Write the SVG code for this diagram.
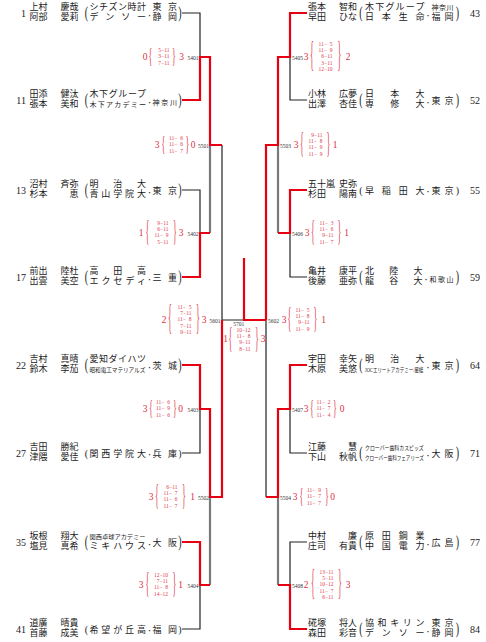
<svg xmlns="http://www.w3.org/2000/svg" width="486" height="642" viewBox="0 0 486 642">
<style>
.n{font-family:"Liberation Serif","Noto Sans CJK JP",serif;font-size:9px;fill:#1a1a1a}
.e{text-anchor:end}
.c{text-anchor:middle}
.d{font-family:"Liberation Serif","Noto Sans CJK JP",serif;font-size:5px;font-weight:700;fill:#1a1a1a;text-anchor:middle}
.s7{font-size:7px}
.s6{font-size:6.2px}
.sd{font-family:"Liberation Serif",serif;font-size:10px;fill:#1a1a1a}
.pr{font-family:"Liberation Serif",serif;font-size:10px;fill:#1a1a1a;text-anchor:middle}
.sc{font-family:"Liberation Serif",serif;font-size:5.5px;fill:#e2394c;text-anchor:middle}
.bg{font-family:"Liberation Serif",serif;font-size:9.5px;fill:#e0303f;text-anchor:middle}
.br{font-family:"Liberation Serif",serif;font-size:8px;fill:#e2394c;text-anchor:middle}
.mn{font-family:"Liberation Serif",serif;font-size:5.5px;fill:#333}
.k{fill:none;stroke:#222;stroke-width:1.2}
.g{fill:none;stroke:#7a7a7a;stroke-width:2.2}
.r{fill:none;stroke:#e60012;stroke-width:2.2}
</style>
<rect width="486" height="642" fill="#fff"/>
<g id="connectors">
<path class="k" d="M182 13H200V57M182 190H200V233M200 409V453H182M200 585V629H182M222 145V320H244M307 100H290V57M307 277H290V233M290 409V453H307M307 542H290V585M266 320V497"/>
<path class="g" d="M210 145V233M210 497V585M278 145V233M278 497V585"/>
<path class="r" d="M182 100H200V57H210V145H222M182 277H200V233H210M182 365H200V409H210V497H222V320M182 542H200V585H210M244 258V320H266M307 13H290V57H278V145H266V320M307 190H290V233H278M307 365H290V409H278V497H266M307 629H290V585H278"/>
</g>
<g id="p01" transform="translate(0,13)">
<text class="sd e" x="26" y="3.5">1</text>
<text class="n" x="29.5" y="-3.1">上村</text><text class="n e" x="78.5" y="-3.1">慶哉</text>
<text class="n" x="29.5" y="7">阿部</text><text class="n e" x="78.5" y="7">愛莉</text>
<text class="pr" transform="translate(86.5,1) scale(1,1.7)" y="2.6">(</text>
<text class="n" x="89.5" y="-3.1" textLength="56.5">シチズン時計</text>
<text class="n" x="89.5" y="7" textLength="56.5">デンソー</text>
<text class="d" x="149.5" y="4">・</text>
<text class="n" x="152.5" y="-3.1" textLength="24.5">東京</text>
<text class="n" x="152.5" y="7" textLength="24.5">静岡</text>
<text class="pr" transform="translate(180,1) scale(1,1.7)" y="2.6">)</text>
</g>
<g id="p11" transform="translate(0,100)">
<text class="sd e" x="26" y="3.5">11</text>
<text class="n" x="29.5" y="-3.1">田添</text><text class="n e" x="78.5" y="-3.1">健汰</text>
<text class="n" x="29.5" y="7">張本</text><text class="n e" x="78.5" y="7">美和</text>
<text class="pr" transform="translate(86.5,1) scale(1,1.7)" y="2.6">(</text>
<text class="n" x="89.5" y="-3.1" textLength="56.5">木下グループ</text>
<text class="n s7" x="89.5" y="6.5" textLength="56.5">木下アカデミー</text>
<text class="d" x="149.5" y="4">・</text>
<text class="n s7" x="152.5" y="4.5" textLength="24.5">神奈川</text>
<text class="pr" transform="translate(180,1) scale(1,1.7)" y="2.6">)</text>
</g>
<g id="p13" transform="translate(0,190)">
<text class="sd e" x="26" y="3.5">13</text>
<text class="n" x="29.5" y="-3.1">沼村</text><text class="n e" x="78.5" y="-3.1">斉弥</text>
<text class="n" x="29.5" y="7">杉本</text><text class="n e" x="78.5" y="7">恵</text>
<text class="pr" transform="translate(86.5,1) scale(1,1.7)" y="2.6">(</text>
<text class="n" x="89.5" y="-3.1" textLength="56.5">明治大</text>
<text class="n" x="89.5" y="7" textLength="56.5">青山学院大</text>
<text class="d" x="149.5" y="4">・</text>
<text class="n" x="152.5" y="4" textLength="24.5">東京</text>
<text class="pr" transform="translate(180,1) scale(1,1.7)" y="2.6">)</text>
</g>
<g id="p17" transform="translate(0,277)">
<text class="sd e" x="26" y="3.5">17</text>
<text class="n" x="29.5" y="-3.1">前出</text><text class="n e" x="78.5" y="-3.1">陸杜</text>
<text class="n" x="29.5" y="7">出雲</text><text class="n e" x="78.5" y="7">美空</text>
<text class="pr" transform="translate(86.5,1) scale(1,1.7)" y="2.6">(</text>
<text class="n" x="89.5" y="-3.1" textLength="56.5">高田高</text>
<text class="n" x="89.5" y="7" textLength="56.5">エクセディ</text>
<text class="d" x="149.5" y="4">・</text>
<text class="n" x="152.5" y="4" textLength="24.5">三重</text>
<text class="pr" transform="translate(180,1) scale(1,1.7)" y="2.6">)</text>
</g>
<g id="p22" transform="translate(0,365)">
<text class="sd e" x="26" y="3.5">22</text>
<text class="n" x="29.5" y="-3.1">吉村</text><text class="n e" x="78.5" y="-3.1">真晴</text>
<text class="n" x="29.5" y="7">鈴木</text><text class="n e" x="78.5" y="7">李茄</text>
<text class="pr" transform="translate(86.5,1) scale(1,1.7)" y="2.6">(</text>
<text class="n" x="89.5" y="-3.1" textLength="56.5">愛知ダイハツ</text>
<text class="n s6" transform="translate(89.5,6.5) scale(0.9,1)" textLength="62" lengthAdjust="spacingAndGlyphs">昭和電工マテリアルズ</text>
<text class="d" x="149.5" y="4">・</text>
<text class="n" x="152.5" y="4" textLength="24.5">茨城</text>
<text class="pr" transform="translate(180,1) scale(1,1.7)" y="2.6">)</text>
</g>
<g id="p27" transform="translate(0,453)">
<text class="sd e" x="26" y="3.5">27</text>
<text class="n" x="29.5" y="-3.1">吉田</text><text class="n e" x="78.5" y="-3.1">勝紀</text>
<text class="n" x="29.5" y="7">津隈</text><text class="n e" x="78.5" y="7">愛佳</text>
<text class="pr" x="86.5" y="4">(</text>
<text class="n" x="89.5" y="4" textLength="56.5">関西学院大</text>
<text class="d" x="149.5" y="3">・</text>
<text class="n" x="152.5" y="4" textLength="24.5">兵庫</text>
<text class="pr" x="180" y="4">)</text>
</g>
<g id="p35" transform="translate(0,542)">
<text class="sd e" x="26" y="3.5">35</text>
<text class="n" x="29.5" y="-3.1">坂根</text><text class="n e" x="78.5" y="-3.1">翔大</text>
<text class="n" x="29.5" y="7">塩見</text><text class="n e" x="78.5" y="7">真希</text>
<text class="pr" transform="translate(86.5,1) scale(1,1.7)" y="2.6">(</text>
<text class="n s6" x="89.5" y="-3.3" textLength="56">関西卓球アカデミー</text>
<text class="n" x="89.5" y="7" textLength="56.5">ミキハウス</text>
<text class="d" x="149.5" y="4">・</text>
<text class="n" x="152.5" y="4" textLength="24.5">大阪</text>
<text class="pr" transform="translate(180,1) scale(1,1.7)" y="2.6">)</text>
</g>
<g id="p41" transform="translate(0,629)">
<text class="sd e" x="26" y="3.5">41</text>
<text class="n" x="29.5" y="-3.1">道廣</text><text class="n e" x="78.5" y="-3.1">晴貴</text>
<text class="n" x="29.5" y="7">首藤</text><text class="n e" x="78.5" y="7">成美</text>
<text class="pr" x="86.5" y="4">(</text>
<text class="n" x="89.5" y="4" textLength="56.5">希望が丘高</text>
<text class="d" x="149.5" y="3">・</text>
<text class="n" x="152.5" y="4" textLength="24.5">福岡</text>
<text class="pr" x="180" y="4">)</text>
</g>
<g id="p43" transform="translate(0,13)">
<text class="n" x="308" y="-3.1">張本</text><text class="n e" x="357" y="-3.1">智和</text>
<text class="n" x="308" y="7">早田</text><text class="n e" x="357" y="7">ひな</text>
<text class="pr" transform="translate(361,1) scale(1,1.7)" y="2.6">(</text>
<text class="n" x="365" y="-3.1" textLength="59.5">木下グループ</text>
<text class="n" x="365" y="7" textLength="59.5">日本生命</text>
<text class="d" x="428" y="4">・</text>
<text class="n s7" x="431.5" y="-3.5" textLength="22">神奈川</text>
<text class="n" x="431.5" y="7" textLength="22">福岡</text>
<text class="pr" transform="translate(457.5,1) scale(1,1.7)" y="2.6">)</text>
<text class="sd" x="470" y="3.5">43</text>
</g>
<g id="p52" transform="translate(0,100)">
<text class="n" x="308" y="-3.1">小林</text><text class="n e" x="357" y="-3.1">広夢</text>
<text class="n" x="308" y="7">出澤</text><text class="n e" x="357" y="7">杏佳</text>
<text class="pr" transform="translate(361,1) scale(1,1.7)" y="2.6">(</text>
<text class="n" x="365" y="-3.1" textLength="59.5">日本大</text>
<text class="n" x="365" y="7" textLength="59.5">専修大</text>
<text class="d" x="428" y="4">・</text>
<text class="n" x="431.5" y="4" textLength="22">東京</text>
<text class="pr" transform="translate(457.5,1) scale(1,1.7)" y="2.6">)</text>
<text class="sd" x="470" y="3.5">52</text>
</g>
<g id="p55" transform="translate(0,190)">
<text class="n" x="308" y="-3.1">五十嵐</text><text class="n e" x="357" y="-3.1">史弥</text>
<text class="n" x="308" y="7">杉田</text><text class="n e" x="357" y="7">陽南</text>
<text class="pr" x="361" y="4">(</text>
<text class="n" x="365" y="4" textLength="59.5">早稲田大</text>
<text class="d" x="428" y="3">・</text>
<text class="n" x="431.5" y="4" textLength="22">東京</text>
<text class="pr" x="457.5" y="4">)</text>
<text class="sd" x="470" y="3.5">55</text>
</g>
<g id="p59" transform="translate(0,277)">
<text class="n" x="308" y="-3.1">亀井</text><text class="n e" x="357" y="-3.1">康平</text>
<text class="n" x="308" y="7">後藤</text><text class="n e" x="357" y="7">亜弥</text>
<text class="pr" transform="translate(361,1) scale(1,1.7)" y="2.6">(</text>
<text class="n" x="365" y="-3.1" textLength="57.5">北陸大</text>
<text class="n" x="365" y="7" textLength="57.5">龍谷大</text>
<text class="d" x="426" y="4">・</text>
<text class="n s7" x="429.5" y="4.5" textLength="24">和歌山</text>
<text class="pr" transform="translate(457.5,1) scale(1,1.7)" y="2.6">)</text>
<text class="sd" x="470" y="3.5">59</text>
</g>
<g id="p64" transform="translate(0,365)">
<text class="n" x="308" y="-3.1">宇田</text><text class="n e" x="357" y="-3.1">幸矢</text>
<text class="n" x="308" y="7">木原</text><text class="n e" x="357" y="7">美悠</text>
<text class="pr" transform="translate(361,1) scale(1,1.7)" y="2.6">(</text>
<text class="n" x="365" y="-3.1" textLength="59.5">明治大</text>
<text class="n s6" transform="translate(365,6.5) scale(0.72,1)" textLength="81" lengthAdjust="spacingAndGlyphs">JOCエリートアカデミー/星槎</text>
<text class="d" x="428" y="4">・</text>
<text class="n" x="431.5" y="4" textLength="22">東京</text>
<text class="pr" transform="translate(457.5,1) scale(1,1.7)" y="2.6">)</text>
<text class="sd" x="470" y="3.5">64</text>
</g>
<g id="p71" transform="translate(0,453)">
<text class="n" x="308" y="-3.1">江藤</text><text class="n e" x="357" y="-3.1">慧</text>
<text class="n" x="308" y="7">下山</text><text class="n e" x="357" y="7">秋帆</text>
<text class="pr" transform="translate(361,1) scale(1,1.7)" y="2.6">(</text>
<text class="n s6" transform="translate(365,-3.3) scale(0.79,1)" textLength="74.4" lengthAdjust="spacingAndGlyphs">クローバー歯科カスピッズ</text>
<text class="n s6" transform="translate(365,6.5) scale(0.73,1)" textLength="80.6" lengthAdjust="spacingAndGlyphs">クローバー歯科フェアリーズ</text>
<text class="d" x="428" y="4">・</text>
<text class="n" x="431.5" y="4" textLength="22">大阪</text>
<text class="pr" transform="translate(457.5,1) scale(1,1.7)" y="2.6">)</text>
<text class="sd" x="470" y="3.5">71</text>
</g>
<g id="p77" transform="translate(0,542)">
<text class="n" x="308" y="-3.1">中村</text><text class="n e" x="357" y="-3.1">廉</text>
<text class="n" x="308" y="7">庄司</text><text class="n e" x="357" y="7">有貴</text>
<text class="pr" transform="translate(361,1) scale(1,1.7)" y="2.6">(</text>
<text class="n" x="365" y="-3.1" textLength="59.5">原田鋼業</text>
<text class="n" x="365" y="7" textLength="59.5">中国電力</text>
<text class="d" x="428" y="4">・</text>
<text class="n" x="431.5" y="4" textLength="22">広島</text>
<text class="pr" transform="translate(457.5,1) scale(1,1.7)" y="2.6">)</text>
<text class="sd" x="470" y="3.5">77</text>
</g>
<g id="p84" transform="translate(0,629)">
<text class="n" x="308" y="-3.1">硴塚</text><text class="n e" x="357" y="-3.1">将人</text>
<text class="n" x="308" y="7">森田</text><text class="n e" x="357" y="7">彩音</text>
<text class="pr" transform="translate(361,1) scale(1,1.7)" y="2.6">(</text>
<text class="n" x="365" y="-3.1" textLength="59.5">協和キリン</text>
<text class="n" x="365" y="7" textLength="59.5">デンソー</text>
<text class="d" x="428" y="4">・</text>
<text class="n" x="431.5" y="-3.1" textLength="22">東京</text>
<text class="n" x="431.5" y="7" textLength="22">静岡</text>
<text class="pr" transform="translate(457.5,1) scale(1,1.7)" y="2.6">)</text>
<text class="sd" x="470" y="3.5">84</text>
</g>
<g id="m5401" transform="translate(0,57)">
<text class="bg" x="145" y="3">0</text>
<text class="br" transform="translate(150.5,-0.5) scale(1,2.65)" y="2">{</text>
<text class="sc" x="162.5" y="-4.9">&#8199;5−11</text>
<text class="sc" x="162.5" y="1.3">&#8199;3−11</text>
<text class="sc" x="162.5" y="7.5">&#8199;7−11</text>
<text class="br" transform="translate(174,-0.5) scale(1,2.65)" y="2">}</text>
<text class="bg" x="181.5" y="3">3</text>
<text class="mn e" x="198.5" y="2.5">5401</text>
</g>
<g id="m5501" transform="translate(0,145)">
<text class="bg" x="157" y="3">3</text>
<text class="br" transform="translate(163.5,-0.5) scale(1,2.65)" y="2">{</text>
<text class="sc" x="176" y="-4.9">11−&#8199;6</text>
<text class="sc" x="176" y="1.3">11−&#8199;6</text>
<text class="sc" x="176" y="7.5">11−&#8199;7</text>
<text class="br" transform="translate(187.5,-0.5) scale(1,2.65)" y="2">}</text>
<text class="bg" x="193" y="3">0</text>
<text class="mn e" x="209" y="2.5">5501</text>
</g>
<g id="m5402" transform="translate(0,233)">
<text class="bg" x="141" y="3">1</text>
<text class="br" transform="translate(147.5,-0.5) scale(1,3.75)" y="2">{</text>
<text class="sc" x="161.5" y="-8">&#8199;9−11</text>
<text class="sc" x="161.5" y="-1.8">&#8199;6−11</text>
<text class="sc" x="161.5" y="4.4">11−&#8199;9</text>
<text class="sc" x="161.5" y="10.6">&#8199;5−11</text>
<text class="br" transform="translate(175,-0.5) scale(1,3.75)" y="2">}</text>
<text class="bg" x="181" y="3">3</text>
<text class="mn e" x="198.5" y="2.5">5402</text>
</g>
<g id="m5601" transform="translate(0,320)">
<text class="bg" x="164" y="3">2</text>
<text class="br" transform="translate(170,-0.5) scale(1,4.6)" y="2">{</text>
<text class="sc" x="184.5" y="-11.1">11−&#8199;5</text>
<text class="sc" x="184.5" y="-4.9">&#8199;7−11</text>
<text class="sc" x="184.5" y="1.3">11−&#8199;8</text>
<text class="sc" x="184.5" y="7.5">&#8199;7−11</text>
<text class="sc" x="184.5" y="13.7">&#8199;9−11</text>
<text class="br" transform="translate(198,-0.5) scale(1,4.6)" y="2">}</text>
<text class="bg" x="204" y="3">3</text>
<text class="mn e" x="220.5" y="2.5">5601</text>
</g>
<g id="m5403" transform="translate(0,409)">
<text class="bg" x="145" y="3">3</text>
<text class="br" transform="translate(151,-0.5) scale(1,2.65)" y="2">{</text>
<text class="sc" x="163" y="-4.9">11−&#8199;6</text>
<text class="sc" x="163" y="1.3">11−&#8199;9</text>
<text class="sc" x="163" y="7.5">11−&#8199;6</text>
<text class="br" transform="translate(175,-0.5) scale(1,2.65)" y="2">}</text>
<text class="bg" x="180.5" y="3">0</text>
<text class="mn e" x="198.5" y="2.5">5403</text>
</g>
<g id="m5502" transform="translate(0,497)">
<text class="bg" x="151" y="3">3</text>
<text class="br" transform="translate(157,-0.5) scale(1,3.75)" y="2">{</text>
<text class="sc" x="170.5" y="-8">&#8199;6−11</text>
<text class="sc" x="170.5" y="-1.8">11−&#8199;7</text>
<text class="sc" x="170.5" y="4.4">11−&#8199;6</text>
<text class="sc" x="170.5" y="10.6">11−&#8199;7</text>
<text class="br" transform="translate(184,-0.5) scale(1,3.75)" y="2">}</text>
<text class="bg" x="192.5" y="3">1</text>
<text class="mn e" x="209" y="2.5">5502</text>
</g>
<g id="m5404" transform="translate(0,585)">
<text class="bg" x="141" y="3">3</text>
<text class="br" transform="translate(147.5,-0.5) scale(1,3.75)" y="2">{</text>
<text class="sc" x="161" y="-8">12−10</text>
<text class="sc" x="161" y="-1.8">&#8199;7−11</text>
<text class="sc" x="161" y="4.4">11−&#8199;8</text>
<text class="sc" x="161" y="10.6">14−12</text>
<text class="br" transform="translate(174.5,-0.5) scale(1,3.75)" y="2">}</text>
<text class="bg" x="180.5" y="3">1</text>
<text class="mn e" x="198.5" y="2.5">5404</text>
</g>
<g id="m5405" transform="translate(0,57)">
<text class="mn" x="292" y="2.5">5405</text>
<text class="bg" x="306" y="3">3</text>
<text class="br" transform="translate(312,-0.5) scale(1,4.6)" y="2">{</text>
<text class="sc" x="325.5" y="-11.1">11−&#8199;5</text>
<text class="sc" x="325.5" y="-4.9">11−&#8199;9</text>
<text class="sc" x="325.5" y="1.3">&#8199;6−11</text>
<text class="sc" x="325.5" y="7.5">&#8199;3−11</text>
<text class="sc" x="325.5" y="13.7">12−10</text>
<text class="br" transform="translate(339.5,-0.5) scale(1,4.6)" y="2">}</text>
<text class="bg" x="348" y="3">2</text>
</g>
<g id="m5503" transform="translate(0,145)">
<text class="mn" x="280" y="2.5">5503</text>
<text class="bg" x="296" y="3">3</text>
<text class="br" transform="translate(302,-0.5) scale(1,3.75)" y="2">{</text>
<text class="sc" x="315.5" y="-8">&#8199;9−11</text>
<text class="sc" x="315.5" y="-1.8">11−&#8199;8</text>
<text class="sc" x="315.5" y="4.4">11−&#8199;9</text>
<text class="sc" x="315.5" y="10.6">11−&#8199;9</text>
<text class="br" transform="translate(328.5,-0.5) scale(1,3.75)" y="2">}</text>
<text class="bg" x="335" y="3">1</text>
</g>
<g id="m5406" transform="translate(0,233)">
<text class="mn" x="292" y="2.5">5406</text>
<text class="bg" x="307" y="3">3</text>
<text class="br" transform="translate(313,-0.5) scale(1,3.75)" y="2">{</text>
<text class="sc" x="326.5" y="-8">11−&#8199;3</text>
<text class="sc" x="326.5" y="-1.8">11−&#8199;6</text>
<text class="sc" x="326.5" y="4.4">&#8199;9−11</text>
<text class="sc" x="326.5" y="10.6">11−&#8199;7</text>
<text class="br" transform="translate(339.5,-0.5) scale(1,3.75)" y="2">}</text>
<text class="bg" x="346.5" y="3">1</text>
</g>
<g id="m5602" transform="translate(0,320)">
<text class="mn" x="268" y="2.5">5602</text>
<text class="bg" x="284" y="3">3</text>
<text class="br" transform="translate(289.5,-0.5) scale(1,3.75)" y="2">{</text>
<text class="sc" x="302.5" y="-8">11−&#8199;5</text>
<text class="sc" x="302.5" y="-1.8">11−&#8199;8</text>
<text class="sc" x="302.5" y="4.4">&#8199;9−11</text>
<text class="sc" x="302.5" y="10.6">11−&#8199;9</text>
<text class="br" transform="translate(315.5,-0.5) scale(1,3.75)" y="2">}</text>
<text class="bg" x="323.5" y="3">1</text>
</g>
<g id="m5407" transform="translate(0,409)">
<text class="mn" x="292" y="2.5">5407</text>
<text class="bg" x="306" y="3">3</text>
<text class="br" transform="translate(312,-0.5) scale(1,2.65)" y="2">{</text>
<text class="sc" x="323.5" y="-4.9">11−&#8199;2</text>
<text class="sc" x="323.5" y="1.3">11−&#8199;7</text>
<text class="sc" x="323.5" y="7.5">11−&#8199;4</text>
<text class="br" transform="translate(335,-0.5) scale(1,2.65)" y="2">}</text>
<text class="bg" x="342" y="3">0</text>
</g>
<g id="m5504" transform="translate(0,497)">
<text class="mn" x="280" y="2.5">5504</text>
<text class="bg" x="295" y="3">3</text>
<text class="br" transform="translate(301.5,-0.5) scale(1,2.65)" y="2">{</text>
<text class="sc" x="314" y="-4.9">11−&#8199;9</text>
<text class="sc" x="314" y="1.3">11−&#8199;7</text>
<text class="sc" x="314" y="7.5">11−&#8199;7</text>
<text class="br" transform="translate(327,-0.5) scale(1,2.65)" y="2">}</text>
<text class="bg" x="332.5" y="3">0</text>
</g>
<g id="m5408" transform="translate(0,585)">
<text class="mn" x="292" y="2.5">5408</text>
<text class="bg" x="306" y="3">2</text>
<text class="br" transform="translate(313,-0.5) scale(1,4.6)" y="2">{</text>
<text class="sc" x="326.5" y="-11.1">13−11</text>
<text class="sc" x="326.5" y="-4.9">&#8199;5−11</text>
<text class="sc" x="326.5" y="1.3">10−12</text>
<text class="sc" x="326.5" y="7.5">11−&#8199;7</text>
<text class="sc" x="326.5" y="13.7">&#8199;6−11</text>
<text class="br" transform="translate(340,-0.5) scale(1,4.6)" y="2">}</text>
<text class="bg" x="348" y="3">3</text>
</g>
<g id="m5701" transform="translate(0,339)">
<text class="mn c" x="238.7" y="-13.2">5701</text>
<text class="bg" x="225.5" y="2.5">1</text>
<text class="br" transform="translate(230.5,0.5) scale(1,3.75)" y="2">{</text>
<text class="sc" x="243.5" y="-7">10−12</text>
<text class="sc" x="243.5" y="-0.8">11−&#8199;8</text>
<text class="sc" x="243.5" y="5.4">&#8199;9−11</text>
<text class="sc" x="243.5" y="11.6">&#8199;8−11</text>
<text class="br" transform="translate(257,0.5) scale(1,3.75)" y="2">}</text>
<text class="bg" x="263" y="2.5">3</text>
</g>
</svg>
